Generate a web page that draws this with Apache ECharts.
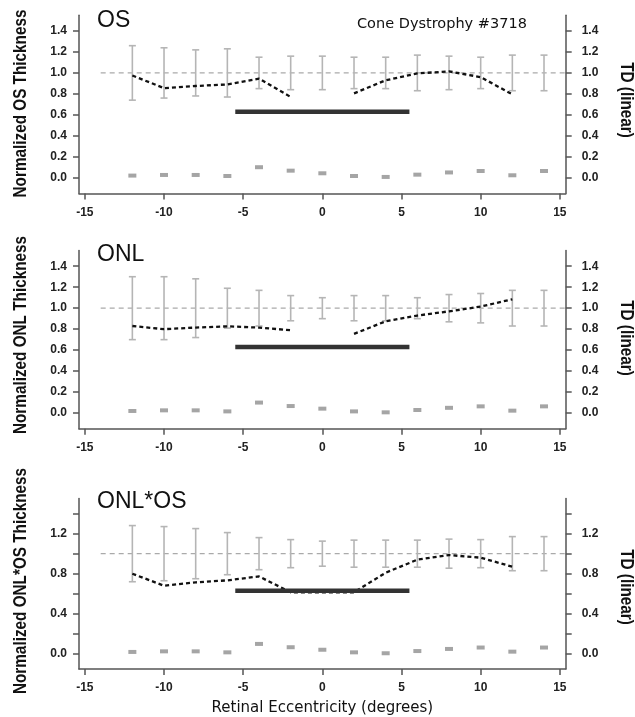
<!DOCTYPE html>
<html>
<head>
<meta charset="utf-8">
<script src="https://cdn.jsdelivr.net/npm/echarts@6/dist/echarts.min.js"></script>
<style>
html,body{margin:0;padding:0;background:#fff;}
#chart{width:635px;height:717px;}
</style>
</head>
<body>
<div id="chart"></div>
<script>
// ---- data ----
const ecc = [-12, -10, -8, -6, -4, -2, 0, 2, 4, 6, 8, 10, 12, 14];
const normalMean = [1, 1, 1, 1, 1, 1, 1, 1, 1, 1, 1, 1, 1, 1];
const osSD   = [0.26, 0.24, 0.22, 0.23, 0.15, 0.16, 0.16, 0.15, 0.15, 0.17, 0.16, 0.15, 0.17, 0.17];
const onlSD  = [0.30, 0.30, 0.28, 0.19, 0.17, 0.12, 0.10, 0.12, 0.12, 0.10, 0.13, 0.14, 0.17, 0.17];
const prodSD = [0.28, 0.27, 0.25, 0.21, 0.16, 0.14, 0.125, 0.135, 0.135, 0.135, 0.145, 0.14, 0.17, 0.17];
const tdValues = [0.02, 0.026, 0.026, 0.016, 0.10, 0.067, 0.042, 0.016, 0.007, 0.029, 0.05, 0.064, 0.023, 0.064];

const patientEcc = [-12, -10, -8, -6, -4, -2, 0, 2, 4, 6, 8, 10, 12];
const osPatient   = [0.975, 0.855, 0.875, 0.89, 0.945, 0.77, null, 0.805, 0.93, 0.995, 1.015, 0.96, 0.795];
const onlPatient  = [0.83, 0.80, 0.815, 0.827, 0.815, 0.79, null, 0.755, 0.875, 0.93, 0.97, 1.015, 1.085];
const prodPatient = [0.80, 0.68, 0.714, 0.734, 0.773, 0.615, 0.615, 0.615, 0.81, 0.94, 0.986, 0.96, 0.87];

const scotomaX = [-5.5, 5.5];
const scotomaY = 0.63;
const refX = [-14, 15.37];
const refY = 1.0;

const xTicks = [-15, -10, -5, 0, 5, 10, 15];
const yTicksFine = [0, 0.2, 0.4, 0.6, 0.8, 1.0, 1.2, 1.4];
const yTicksCoarse = [0, 0.4, 0.8, 1.2];

const panelTitles = ['OS', 'ONL', 'ONL*OS'];
const yNames = ['Normalized OS Thickness', 'Normalized ONL Thickness', 'Normalized ONL*OS Thickness'];
const rightName = 'TD (linear)';
const xName = 'Retinal Eccentricity (degrees)';
const subjectLabel = 'Cone Dystrophy #3718';

// ---- layout ----
const FONT = 'DejaVu Sans';
const LBL = 'Liberation Sans';
const grids = [
  {left: 79, width: 486.7, top: 15.3, height: 178.1},
  {left: 79, width: 486.7, top: 250.5, height: 178.3},
  {left: 79, width: 486.7, top: 498.5, height: 172.4}
];
const sdSets = [osSD, onlSD, prodSD];
const patientSets = [osPatient, onlPatient, prodPatient];
const titleMid = [20.5, 255, 502];
const leftNameMid = [103.5, 335, 581];
const rightNameMid = [100, 338, 587];

const axisColor = '#555';
const xAxes = [], yAxes = [], series = [], graphics = [];

grids.forEach((g, i) => {
  xAxes.push({
    type: 'value', gridIndex: i, min: -15.37, max: 15.37,
    splitLine: {show: false},
    axisLine: {show: true, onZero: false, lineStyle: {color: axisColor, width: 1.5}},
    axisTick: {show: true, length: 6, lineStyle: {color: axisColor, width: 1.5}, customValues: xTicks},
    axisLabel: {customValues: xTicks, margin: 13, fontFamily: LBL, fontWeight: 'bold', fontSize: 12, color: '#222',
      formatter: v => String(v)},
    name: i === 2 ? xName : '',
    nameLocation: 'middle', nameGap: 32,
    nameTextStyle: {fontFamily: FONT, fontSize: 15, color: '#111'}
  });
  const yt = i === 2 ? yTicksCoarse : yTicksFine;
  const common = {
    type: 'value', gridIndex: i, min: -0.15, max: 1.55,
    splitLine: {show: false},
    axisLine: {show: true, onZero: false, lineStyle: {color: axisColor, width: 1.5}},
    axisTick: {show: true, length: 6, lineStyle: {color: axisColor, width: 1.5}, customValues: yTicksFine},
    axisLabel: {customValues: yt, fontFamily: LBL, fontWeight: 'bold', fontSize: 12, color: '#222',
      formatter: v => v.toFixed(1)}
  };
  yAxes.push(Object.assign({}, common, {
    position: 'left', axisLabel: Object.assign({}, common.axisLabel, {margin: 12})
  }));
  yAxes.push(Object.assign({}, common, {
    position: 'right', axisLabel: Object.assign({}, common.axisLabel, {margin: 16})
  }));

  const yL = 2 * i, yR = 2 * i + 1;
  series.push({
    type: 'line', xAxisIndex: i, yAxisIndex: yL, silent: true, symbol: 'none',
    data: refX.map(x => [x, refY]),
    lineStyle: {color: '#aaa', width: 1.2, type: [5, 4]}, z: 1
  });
  const sd = sdSets[i];
  series.push({
    type: 'custom', xAxisIndex: i, yAxisIndex: yL, silent: true, z: 2,
    data: ecc.map((x, k) => [x, normalMean[k] - sd[k], normalMean[k] + sd[k]]),
    renderItem: function (params, api) {
      const x = api.value(0);
      const p1 = api.coord([x, api.value(2)]);
      const p2 = api.coord([x, api.value(1)]);
      const w = 3.5;
      const st = {stroke: '#b5b5b5', lineWidth: 1.6};
      return {type: 'group', children: [
        {type: 'line', shape: {x1: p1[0], y1: p1[1], x2: p2[0], y2: p2[1]}, style: st},
        {type: 'line', shape: {x1: p1[0] - w, y1: p1[1], x2: p1[0] + w, y2: p1[1]}, style: st},
        {type: 'line', shape: {x1: p2[0] - w, y1: p2[1], x2: p2[0] + w, y2: p2[1]}, style: st}
      ]};
    }
  });
  series.push({
    type: 'line', xAxisIndex: i, yAxisIndex: yL, silent: true, symbol: 'none', connectNulls: false,
    data: patientEcc.map((x, k) => [x, patientSets[i][k]]),
    lineStyle: {color: '#111', width: 2.3, type: [4, 3]}, z: 3
  });
  series.push({
    type: 'line', xAxisIndex: i, yAxisIndex: yL, silent: true, symbol: 'none',
    data: scotomaX.map(x => [x, scotomaY]),
    lineStyle: {color: '#333', width: 4.5, cap: 'butt'}, z: 4
  });
  series.push({
    type: 'scatter', xAxisIndex: i, yAxisIndex: yR, silent: true,
    symbol: 'rect', symbolSize: [8, 4],
    data: ecc.map((x, k) => [x, tdValues[k]]),
    itemStyle: {color: '#8e8e8e'}, z: 5
  });

  graphics.push({
    type: 'text', x: 97, y: titleMid[i], silent: true,
    style: {text: panelTitles[i], fontFamily: LBL, fontSize: 23, fill: '#111', align: 'left', verticalAlign: 'middle'}
  });
  graphics.push({
    type: 'text', x: 21.5, y: leftNameMid[i], rotation: Math.PI / 2, scaleX: 0.85, silent: true,
    style: {text: yNames[i], fontFamily: LBL, fontWeight: 'bold', fontSize: 18, fill: '#111',
      align: 'center', verticalAlign: 'middle'}
  });
  graphics.push({
    type: 'text', x: 626.3, y: rightNameMid[i], rotation: -Math.PI / 2, scaleX: 0.85, silent: true,
    style: {text: rightName, fontFamily: LBL, fontWeight: 'bold', fontSize: 18, fill: '#111',
      align: 'center', verticalAlign: 'middle'}
  });
});

graphics.push({
  type: 'text', x: 357, y: 24, silent: true,
  style: {text: subjectLabel, fontFamily: FONT, fontSize: 14.5, fill: '#111', align: 'left', verticalAlign: 'middle'}
});

const chart = echarts.init(document.getElementById('chart'), null, {renderer: 'canvas'});
chart.setOption({
  animation: false,
  backgroundColor: '#fff',
  grid: grids,
  xAxis: xAxes,
  yAxis: yAxes,
  series: series,
  graphic: {elements: graphics}
});
</script>
</body>
</html>
